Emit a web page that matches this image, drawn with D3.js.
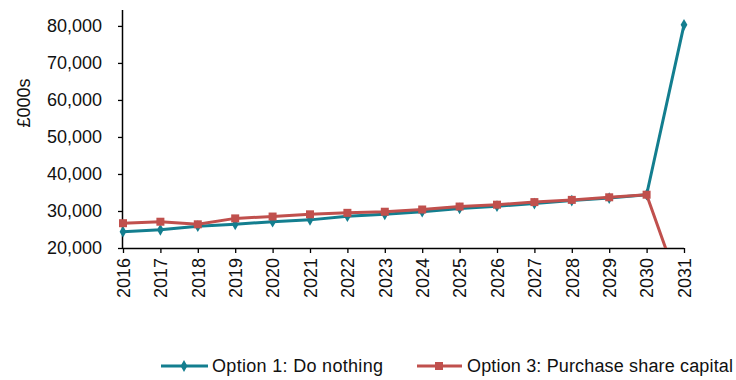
<!DOCTYPE html>
<html>
<head>
<meta charset="utf-8">
<script src="https://cdn.jsdelivr.net/npm/d3@7"></script>
<style>
  html, body { margin: 0; padding: 0; background: #fff; }
  svg { display: block; font-family: "Liberation Sans", Arial, sans-serif; }
</style>
</head>
<body>
<svg id="chart" width="736" height="380"></svg>
<script>
// Annual values, £000s
const years = [2016, 2017, 2018, 2019, 2020, 2021, 2022, 2023, 2024, 2025, 2026, 2027, 2028, 2029, 2030, 2031];
const doNothing = [24400, 24900, 25900, 26400, 27100, 27600, 28600, 29100, 29800, 30700, 31300, 32000, 32800, 33500, 34400, 80300];
const purchaseShares = [26700, 27100, 26400, 28000, 28500, 29100, 29500, 29800, 30400, 31200, 31700, 32400, 33000, 33700, 34400, 6000];
const yTicks = [20000, 30000, 40000, 50000, 60000, 70000, 80000];
const seriesNames = ["Option 1: Do nothing", "Option 3: Purchase share capital"];
const colors = ["#137e8f", "#c0504d"];

const svg = d3.select("#chart");
const plotLeft = 123, plotRight = 684, plotTop = 10, plotBottom = 248;

const x = d3.scalePoint().domain(years).range([plotLeft, plotRight]);
const y = d3.scaleLinear().domain([20000, 84300]).range([plotBottom, plotTop]);

// clip marks to the plotting area
svg.append("defs").append("clipPath").attr("id", "plot")
  .append("rect").attr("x", plotLeft - 10).attr("y", 0)
  .attr("width", plotRight - plotLeft + 20).attr("height", plotBottom);

// y axis
const yAxis = svg.append("g")
  .attr("transform", `translate(${plotLeft},0)`)
  .call(d3.axisLeft(y).tickValues(yTicks).tickSize(5).tickPadding(16)
    .tickFormat(d3.format(",")));
yAxis.select(".domain").attr("d", `M-0.5,${plotTop}V${plotBottom}`).attr("stroke", "#000").attr("stroke-width", 1.5);
yAxis.selectAll(".tick line").attr("stroke", "#000").attr("stroke-width", 1.3);
yAxis.selectAll(".tick text").attr("font-size", 18).attr("fill", "#111")
  .attr("font-family", "Liberation Sans, Arial, sans-serif");

// x axis
const xAxis = svg.append("g")
  .attr("transform", `translate(0,${plotBottom})`)
  .call(d3.axisBottom(x).tickSize(5).tickPadding(5).tickSizeOuter(0));
xAxis.select(".domain").attr("d", `M${plotLeft},0.5H${plotRight}`).attr("stroke", "#000").attr("stroke-width", 1.5);
xAxis.selectAll(".tick line").attr("stroke", "#000").attr("stroke-width", 1.3);
xAxis.selectAll(".tick text")
  .attr("font-size", 18).attr("fill", "#111")
  .attr("font-family", "Liberation Sans, Arial, sans-serif")
  .attr("text-anchor", "end")
  .attr("dy", "0.35em")
  .attr("transform", "translate(0,10) rotate(-90)")
  .attr("x", 0).attr("y", 0);

// y axis title
svg.append("text")
  .attr("transform", "translate(24,103) rotate(-90)")
  .attr("text-anchor", "middle").attr("dy", "0.35em")
  .attr("font-size", 18).attr("fill", "#111")
  .text("£000s");

const line = d3.line().x((d, i) => x(years[i])).y(d => y(d));
const plot = svg.append("g").attr("clip-path", "url(#plot)");

// Option 1 line with diamond markers
plot.append("path").datum(doNothing)
  .attr("d", line).attr("fill", "none")
  .attr("stroke", colors[0]).attr("stroke-width", 3).attr("stroke-linejoin", "round");
plot.selectAll(".dia").data(doNothing).join("path")
  .attr("transform", (d, i) => `translate(${x(years[i])},${y(d)})`)
  .attr("d", d3.symbol(d3.symbolDiamond, 40)())
  .attr("fill", colors[0]);

// Option 3 line with square markers
plot.append("path").datum(purchaseShares)
  .attr("d", line).attr("fill", "none")
  .attr("stroke", colors[1]).attr("stroke-width", 3).attr("stroke-linejoin", "round");
plot.selectAll(".sq").data(purchaseShares).join("rect")
  .attr("x", (d, i) => x(years[i]) - 4).attr("y", d => y(d) - 4)
  .attr("width", 8).attr("height", 8)
  .attr("fill", colors[1]);

// legend
const legendY = 366;
const leg1 = svg.append("g");
leg1.append("line").attr("x1", 161).attr("x2", 208).attr("y1", legendY).attr("y2", legendY)
  .attr("stroke", colors[0]).attr("stroke-width", 3);
leg1.append("path").attr("transform", `translate(184,${legendY})`)
  .attr("d", d3.symbol(d3.symbolDiamond, 40)()).attr("fill", colors[0]);
leg1.append("text").attr("x", 212).attr("y", legendY).attr("dy", "0.35em")
  .attr("font-size", 18).attr("fill", "#111").attr("textLength", 171)
  .text(seriesNames[0]);

const leg2 = svg.append("g");
leg2.append("line").attr("x1", 417).attr("x2", 462).attr("y1", legendY).attr("y2", legendY)
  .attr("stroke", colors[1]).attr("stroke-width", 3);
leg2.append("rect").attr("x", 435).attr("y", legendY - 4).attr("width", 8).attr("height", 8)
  .attr("fill", colors[1]);
leg2.append("text").attr("x", 467).attr("y", legendY).attr("dy", "0.35em")
  .attr("font-size", 18).attr("fill", "#111").attr("textLength", 266)
  .text(seriesNames[1]);
</script>
</body>
</html>
